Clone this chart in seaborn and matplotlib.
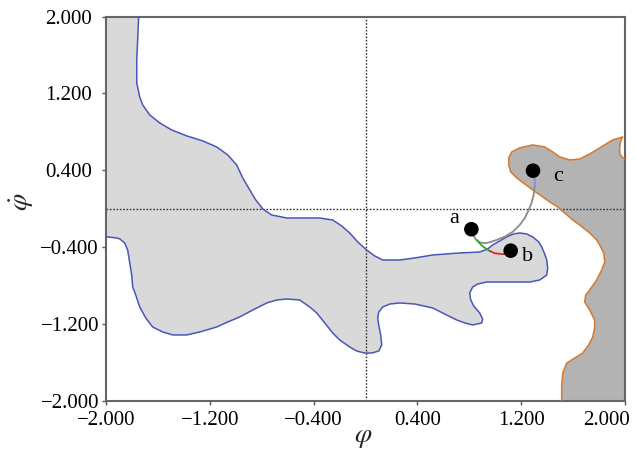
import numpy as np
import pandas as pd
import matplotlib
matplotlib.use("Agg")
import matplotlib.pyplot as plt
import matplotlib.transforms as mtransforms
import seaborn as sns

# Basin of attraction boundary (light region, blue outline), in (phi, phi_dot)
basin_phi = [-1.748, -1.756, -1.763, -1.763, -1.740, -1.717, -1.663, -1.586, -1.494, -1.378,
             -1.255, -1.147, -1.062, -0.993, -0.946, -0.892, -0.846, -0.792, -0.723, -0.607,
             -0.507, -0.353, -0.253, -0.183, -0.122, -0.060, 0.009, 0.071, 0.133, 0.264,
             0.379, 0.518, 0.726, 0.880, 0.942, 0.980, 1.034, 1.088, 1.142, 1.188,
             1.242, 1.289, 1.335, 1.358, 1.381, 1.397, 1.404, 1.397, 1.343, 1.266,
             1.165, 1.034, 0.934, 0.865, 0.826, 0.803, 0.811, 0.834, 0.880, 0.903,
             0.896, 0.826, 0.765, 0.703, 0.610, 0.518, 0.379, 0.264, 0.187, 0.133,
             0.102, 0.094, 0.102, 0.117, 0.125, 0.102, 0.048, -0.006, -0.068, -0.122,
             -0.199, -0.253, -0.314, -0.376, -0.430, -0.507, -0.607, -0.684, -0.761, -0.869,
             -0.970, -1.062, -1.147, -1.278, -1.378, -1.486, -1.563, -1.640, -1.694, -1.740,
             -1.771, -1.794, -1.802, -1.817, -1.833, -1.856, -1.894, -1.918, -1.987, -2.000]
basin_dphi = [2.000, 1.757, 1.548, 1.309, 1.163, 1.080, 0.976, 0.893, 0.820, 0.758,
              0.706, 0.643, 0.560, 0.456, 0.321, 0.196, 0.092, -0.002, -0.065, -0.096,
              -0.096, -0.096, -0.117, -0.179, -0.252, -0.345, -0.429, -0.491, -0.533, -0.533,
              -0.512, -0.481, -0.460, -0.450, -0.418, -0.377, -0.335, -0.293, -0.262, -0.252,
              -0.262, -0.293, -0.345, -0.398, -0.470, -0.533, -0.616, -0.689, -0.741, -0.762,
              -0.762, -0.762, -0.762, -0.783, -0.814, -0.876, -0.949, -1.011, -1.084, -1.147,
              -1.188, -1.209, -1.188, -1.157, -1.095, -1.032, -0.991, -0.980, -0.991, -1.022,
              -1.074, -1.136, -1.209, -1.313, -1.417, -1.480, -1.501, -1.501, -1.480, -1.438,
              -1.365, -1.292, -1.188, -1.084, -1.022, -0.949, -0.939, -0.949, -0.980, -1.053,
              -1.126, -1.178, -1.230, -1.282, -1.313, -1.313, -1.282, -1.230, -1.136, -1.022,
              -0.897, -0.814, -0.689, -0.564, -0.429, -0.356, -0.314, -0.304, -0.293, -0.293]

# Second region (dark, orange outline) on the right-hand side
region_phi = [1.512, 1.512, 1.520, 1.551, 1.612, 1.674, 1.720, 1.751, 1.766, 1.766,
              1.728, 1.689, 1.697, 1.728, 1.782, 1.820, 1.844, 1.836, 1.805, 1.782,
              1.728, 1.651, 1.597, 1.535, 1.481, 1.420, 1.343, 1.289, 1.227, 1.165,
              1.119, 1.104, 1.104, 1.127, 1.188, 1.289, 1.381, 1.443, 1.497, 1.574,
              1.651, 1.728, 1.805, 1.905, 1.982, 1.967, 1.959, 1.959, 1.975, 2.000]
region_dphi = [-2.000, -1.854, -1.709, -1.605, -1.553, -1.501, -1.417, -1.334, -1.240, -1.157,
               -1.053, -0.970, -0.897, -0.845, -0.741, -0.637, -0.554, -0.460, -0.377, -0.325,
               -0.252, -0.169, -0.117, -0.044, 0.019, 0.071, 0.144, 0.196, 0.258, 0.321,
               0.383, 0.456, 0.529, 0.591, 0.633, 0.664, 0.643, 0.591, 0.539, 0.508,
               0.518, 0.570, 0.633, 0.716, 0.747, 0.706, 0.643, 0.581, 0.539, 0.518]

# Trajectories between the labelled states
traj_ac_phi = [0.816, 0.829, 0.849, 0.880, 0.919, 0.957, 1.009, 1.073, 1.137, 1.188,
               1.227, 1.252, 1.279, 1.296, 1.304]
traj_ac_dphi = [-0.213, -0.273, -0.317, -0.349, -0.359, -0.349, -0.325, -0.290, -0.238, -0.169,
                -0.099, -0.030, 0.057, 0.144, 0.230]
traj_c_phi = [1.304, 1.304, 1.291]
traj_c_dphi = [0.230, 0.321, 0.396]
traj_green_phi = [0.857, 0.867, 0.906, 0.957]
traj_green_dphi = [-0.325, -0.342, -0.394, -0.439]
traj_red_phi = [0.957, 0.996, 1.060, 1.098, 1.119]
traj_red_dphi = [-0.439, -0.463, -0.473, -0.457, -0.436]

# Labelled states
state_names = ["a", "b", "c"]
state_phi = [0.816, 1.119, 1.291]
state_dphi = [-0.213, -0.436, 0.396]

tick_values = [-2.0, -1.2, -0.4, 0.4, 1.2, 2.0]
tick_labels = ["\u22122.000", "\u22121.200", "\u22120.400", "0.400", "1.200", "2.000"]

sns.set_theme(style="ticks")
plt.rcParams["font.family"] = ["Liberation Serif", "DejaVu Serif"]
plt.rcParams["mathtext.fontset"] = "stix"

fig = plt.figure(figsize=(6.36, 4.55), dpi=100)
ax = fig.add_axes([106 / 636, 1 - 401 / 455, 519 / 636, 384.5 / 455])

# Filled regions (closed along the plot frame)
ax.fill(basin_phi + [-2.0], basin_dphi + [2.0], color="#d9d9d9", lw=0, zorder=1)
ax.fill(region_phi + [2.0], region_dphi + [-2.0], color="#b3b3b3", lw=0, zorder=1)

def path(x, y, color, lw):
    df = pd.DataFrame({"phi": x, "dphi": y})
    sns.lineplot(data=df, x="phi", y="dphi", sort=False, estimator=None,
                 color=color, lw=lw, ax=ax, zorder=3)

path(basin_phi, basin_dphi, "#4a56b8", 1.1)
path(region_phi, region_dphi, "#d6782e", 1.1)

# Dotted reference axes
ax.axhline(0, color="#333333", lw=1.0, ls=(0, (1.2, 1.2)), zorder=2)
ax.axvline(0, color="#333333", lw=1.0, ls=(0, (1.2, 1.2)), zorder=2)

path(traj_ac_phi, traj_ac_dphi, "#8a8a8a", 1.3)
path(traj_c_phi, traj_c_dphi, "#8c8cdc", 1.3)
path(traj_green_phi, traj_green_dphi, "#2fa83a", 1.3)
path(traj_red_phi, traj_red_dphi, "#d82a2a", 1.3)

states = pd.DataFrame({"phi": state_phi, "dphi": state_dphi, "name": state_names})
sns.scatterplot(data=states, x="phi", y="dphi", color="black", s=110,
                edgecolor="none", ax=ax, zorder=5)
label_offsets = {"a": (-17, 11), "b": (17, -6), "c": (25, -6)}
for _, r in states.iterrows():
    dx, dy = label_offsets[r["name"]]
    ax.annotate(r["name"], (r["phi"], r["dphi"]), xytext=(dx, dy),
                textcoords="offset pixels", ha="center", va="center",
                fontsize=16, color="black", zorder=6)

ax.set_xlim(-2.0, 2.0)
ax.set_ylim(-2.0, 2.0)
ax.set_xticks(tick_values)
ax.set_xticklabels(tick_labels)
ax.set_yticks(tick_values)
ax.set_yticklabels(tick_labels)
ax.tick_params(axis="both", labelsize=15, direction="out", length=3, width=1,
               color="#555555", labelcolor="black")
ax.tick_params(axis="x", pad=4)
ax.tick_params(axis="y", pad=2)
for s in ax.spines.values():
    s.set_color("#666666")
    s.set_linewidth(1.5)

# Positive y labels sit a little further from the frame; last x label kept inside
for lbl, v in zip(ax.get_yticklabels(), tick_values):
    if v > 0:
        lbl.set_transform(lbl.get_transform() +
                          mtransforms.ScaledTranslation(-7 / 100, 0, fig.dpi_scale_trans))
last_x = ax.get_xticklabels()[-1]
last_x.set_transform(last_x.get_transform() +
                     mtransforms.ScaledTranslation(-18 / 100, 0, fig.dpi_scale_trans))

ax.set_xlabel(r"$\varphi$", fontsize=20, va="center")
ax.set_ylabel(r"$\dot{\varphi}$", fontsize=20, va="center", rotation=90)
ax.xaxis.set_label_coords(0.495, -0.096)
ax.yaxis.set_label_coords(-0.162, 0.518)

fig.savefig("out.png", dpi=100)
